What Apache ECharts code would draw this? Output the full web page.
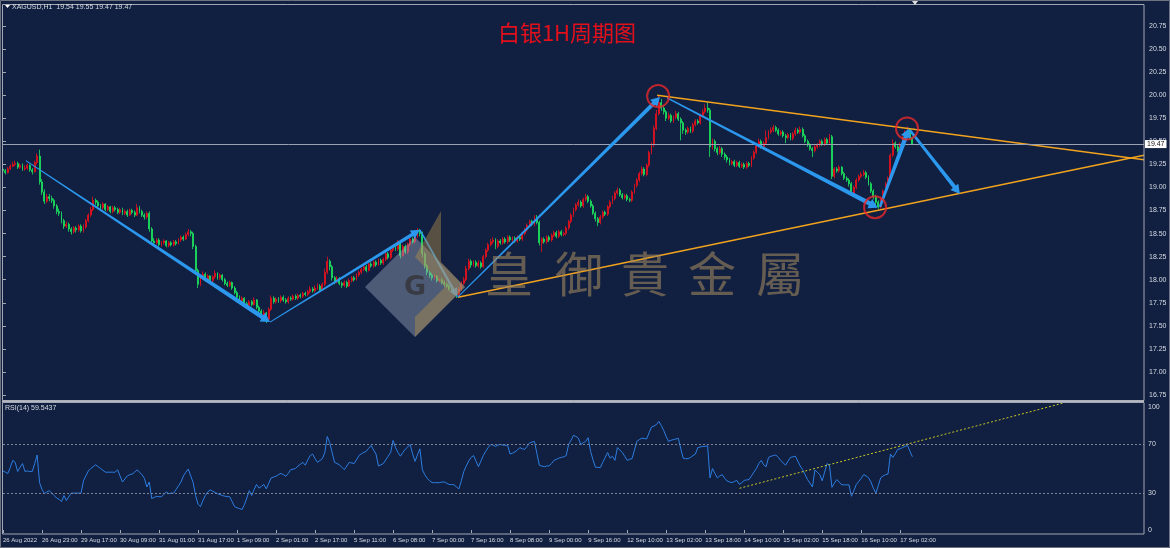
<!DOCTYPE html>
<html>
<head>
<meta charset="utf-8">
<title>XAGUSD H1</title>
<script src="https://cdn.jsdelivr.net/npm/echarts@6.0.0/dist/echarts.min.js"></script>
<style>
html, body { margin: 0; padding: 0; background: #111f40; }
#chart { width: 1170px; height: 548px; }
</style>
</head>
<body>
<div id="chart"></div>
<script>
// hourly bars, XAGUSD H1, 26 Aug - 17 Sep 2022
var firstOpen = 19.20;
var closes = [
  19.18, 19.16, 19.20, 19.23, 19.25, 19.26, 19.22, 19.24, 19.20, 19.21,
  19.24, 19.19, 19.17, 19.27, 19.34, 19.06, 18.95, 18.85, 18.90, 18.88,
  18.86, 18.80, 18.74, 18.72, 18.64, 18.58, 18.60, 18.55, 18.52, 18.56,
  18.54, 18.58, 18.53, 18.57, 18.64, 18.70, 18.76, 18.86, 18.84, 18.80,
  18.78, 18.82, 18.76, 18.79, 18.74, 18.78, 18.76, 18.73, 18.76, 18.72,
  18.74, 18.70, 18.75, 18.73, 18.70, 18.78, 18.74, 18.70, 18.68, 18.72,
  18.55, 18.42, 18.40, 18.43, 18.38, 18.40, 18.42, 18.37, 18.40, 18.38,
  18.41, 18.39, 18.43, 18.46, 18.44, 18.49, 18.52, 18.50, 18.36, 18.10,
  17.95, 18.02, 18.06, 18.00, 18.04, 17.99, 18.03, 18.07, 18.02, 18.05,
  18.00, 17.96, 17.94, 17.97, 17.91, 17.86, 17.81, 17.77, 17.80, 17.74,
  17.72, 17.76, 17.73, 17.78, 17.70, 17.66, 17.60, 17.64, 17.57, 17.68,
  17.80, 17.76, 17.79, 17.77, 17.81, 17.78, 17.76, 17.80, 17.79, 17.82,
  17.80, 17.83, 17.82, 17.85, 17.84, 17.87, 17.90, 17.88, 17.91, 17.93,
  17.89, 17.95, 18.08, 18.20, 18.14, 18.02, 17.98, 18.01, 17.96, 17.94,
  17.97, 17.93, 17.99, 18.02, 18.00, 18.05, 18.08, 18.11, 18.14, 18.10,
  18.17, 18.15, 18.19, 18.16, 18.21, 18.18, 18.22, 18.28, 18.24, 18.32,
  18.35, 18.33, 18.40, 18.26, 18.36, 18.30, 18.38, 18.44, 18.41, 18.47,
  18.53, 18.50, 18.28, 18.15, 18.08, 18.05, 18.02, 18.04, 17.99, 18.00,
  17.97, 17.95, 17.93, 17.90, 17.88, 17.86, 17.83, 17.90, 17.96, 18.00,
  18.12, 18.20, 18.16, 18.19, 18.15, 18.18, 18.14, 18.25, 18.32, 18.38,
  18.41, 18.43, 18.36, 18.42, 18.40, 18.44, 18.41, 18.46, 18.43, 18.45,
  18.42, 18.46, 18.44, 18.50, 18.54, 18.59, 18.63, 18.60, 18.67, 18.62,
  18.40, 18.44, 18.41, 18.46, 18.43, 18.48, 18.51, 18.47, 18.52, 18.49,
  18.50, 18.56, 18.63, 18.70, 18.76, 18.81, 18.84, 18.80, 18.87, 18.90,
  18.85, 18.80, 18.72, 18.66, 18.62, 18.68, 18.73, 18.71, 18.79, 18.84,
  18.88, 18.94, 18.97, 18.92, 18.89, 18.91, 18.87, 18.86, 18.95, 19.02,
  19.08, 19.15, 19.20, 19.14, 19.24, 19.38, 19.46, 19.64, 19.80, 19.92,
  19.86, 19.82, 19.75, 19.78, 19.72, 19.76, 19.80, 19.74, 19.70, 19.62,
  19.60, 19.64, 19.61, 19.68, 19.72, 19.70, 19.78, 19.82, 19.86, 19.84,
  19.44, 19.50, 19.42, 19.38, 19.42, 19.36, 19.33, 19.30, 19.26, 19.28,
  19.24, 19.27, 19.23, 19.25, 19.22, 19.26, 19.24, 19.32, 19.38, 19.45,
  19.50, 19.44, 19.48, 19.54, 19.60, 19.62, 19.65, 19.62, 19.58, 19.60,
  19.56, 19.54, 19.57, 19.53, 19.58, 19.62, 19.60, 19.63, 19.56, 19.50,
  19.46, 19.42, 19.40, 19.44, 19.46, 19.50, 19.47, 19.52, 19.48, 19.55,
  19.12, 19.20, 19.18, 19.22, 19.15, 19.10, 19.08, 19.04, 18.93, 19.00,
  19.08, 19.12, 19.14, 19.16, 19.11, 19.04, 18.96, 18.90, 18.84, 18.79,
  18.88, 18.96, 19.04, 19.10, 19.35, 19.48, 19.44, 19.40, 19.47, 19.54,
  19.59, 19.63, 19.54, 19.47
];
var highs = [
  19.23, 19.20, 19.22, 19.25, 19.28, 19.29, 19.28, 19.26, 19.26, 19.24,
  19.26, 19.25, 19.21, 19.29, 19.37, 19.41, 19.09, 18.98, 18.93, 18.93,
  18.91, 18.88, 18.82, 18.77, 18.74, 18.66, 18.63, 18.62, 18.57, 18.58,
  18.58, 18.60, 18.60, 18.60, 18.66, 18.72, 18.79, 18.90, 18.88, 18.86,
  18.82, 18.84, 18.83, 18.81, 18.80, 18.80, 18.80, 18.78, 18.78, 18.78,
  18.76, 18.76, 18.77, 18.77, 18.75, 18.82, 18.80, 18.76, 18.72, 18.74,
  18.74, 18.57, 18.45, 18.45, 18.45, 18.42, 18.44, 18.43, 18.42, 18.42,
  18.43, 18.43, 18.45, 18.48, 18.48, 18.51, 18.55, 18.54, 18.52, 18.38,
  18.12, 18.04, 18.09, 18.08, 18.06, 18.05, 18.05, 18.10, 18.08, 18.07,
  18.06, 18.02, 17.98, 17.99, 17.98, 17.93, 17.88, 17.83, 17.82, 17.81,
  17.76, 17.78, 17.78, 17.81, 17.79, 17.72, 17.68, 17.67, 17.65, 17.70,
  17.83, 17.82, 17.81, 17.81, 17.83, 17.83, 17.80, 17.82, 17.82, 17.84,
  17.84, 17.85, 17.85, 17.87, 17.87, 17.89, 17.93, 17.92, 17.94, 17.96,
  17.95, 17.97, 18.12, 18.25, 18.22, 18.16, 18.04, 18.04, 18.03, 17.98,
  17.99, 17.99, 18.01, 18.04, 18.04, 18.07, 18.10, 18.13, 18.16, 18.16,
  18.19, 18.19, 18.21, 18.21, 18.23, 18.23, 18.24, 18.31, 18.30, 18.34,
  18.37, 18.37, 18.43, 18.41, 18.38, 18.38, 18.40, 18.46, 18.46, 18.50,
  18.56, 18.55, 18.52, 18.30, 18.17, 18.10, 18.07, 18.06, 18.05, 18.02,
  18.02, 17.99, 17.97, 17.95, 17.92, 17.90, 17.88, 17.92, 17.98, 18.03,
  18.15, 18.23, 18.22, 18.21, 18.21, 18.21, 18.20, 18.27, 18.34, 18.40,
  18.44, 18.46, 18.45, 18.44, 18.44, 18.46, 18.46, 18.48, 18.48, 18.47,
  18.47, 18.48, 18.48, 18.52, 18.56, 18.61, 18.65, 18.65, 18.70, 18.70,
  18.64, 18.46, 18.46, 18.48, 18.48, 18.50, 18.53, 18.53, 18.54, 18.54,
  18.52, 18.58, 18.65, 18.72, 18.78, 18.83, 18.87, 18.86, 18.89, 18.93,
  18.92, 18.87, 18.82, 18.74, 18.68, 18.70, 18.75, 18.75, 18.81, 18.86,
  18.91, 18.96, 19.00, 18.99, 18.94, 18.93, 18.93, 18.89, 18.97, 19.04,
  19.10, 19.17, 19.23, 19.22, 19.26, 19.40, 19.49, 19.67, 19.84, 20.00,
  19.96, 19.89, 19.84, 19.81, 19.80, 19.78, 19.83, 19.82, 19.76, 19.72,
  19.64, 19.66, 19.66, 19.70, 19.74, 19.74, 19.80, 19.85, 19.90, 19.92,
  19.86, 19.53, 19.52, 19.44, 19.45, 19.44, 19.38, 19.35, 19.32, 19.30,
  19.30, 19.29, 19.29, 19.27, 19.27, 19.28, 19.28, 19.34, 19.40, 19.47,
  19.53, 19.52, 19.50, 19.62, 19.62, 19.65, 19.68, 19.67, 19.64, 19.62,
  19.62, 19.58, 19.59, 19.59, 19.60, 19.65, 19.64, 19.66, 19.65, 19.58,
  19.52, 19.48, 19.44, 19.46, 19.48, 19.52, 19.52, 19.54, 19.54, 19.58,
  19.57, 19.22, 19.22, 19.24, 19.23, 19.17, 19.12, 19.10, 19.06, 19.02,
  19.10, 19.14, 19.17, 19.19, 19.18, 19.13, 19.06, 18.98, 18.92, 18.86,
  18.90, 18.98, 19.06, 19.12, 19.37, 19.52, 19.50, 19.46, 19.49, 19.56,
  19.62, 19.66, 19.64, 19.55
];
var lows = [
  19.16, 19.14, 19.15, 19.19, 19.22, 19.23, 19.20, 19.20, 19.18, 19.18,
  19.19, 19.17, 19.14, 19.16, 19.25, 19.03, 18.92, 18.82, 18.83, 18.85,
  18.83, 18.77, 18.71, 18.69, 18.61, 18.55, 18.56, 18.52, 18.49, 18.50,
  18.51, 18.52, 18.51, 18.51, 18.55, 18.62, 18.68, 18.74, 18.81, 18.78,
  18.75, 18.76, 18.74, 18.74, 18.72, 18.72, 18.74, 18.71, 18.71, 18.70,
  18.70, 18.68, 18.69, 18.71, 18.68, 18.69, 18.72, 18.68, 18.65, 18.66,
  18.52, 18.38, 18.37, 18.38, 18.36, 18.36, 18.38, 18.35, 18.35, 18.36,
  18.36, 18.37, 18.38, 18.41, 18.42, 18.43, 18.47, 18.47, 18.33, 18.06,
  17.91, 17.93, 18.00, 17.98, 17.98, 17.97, 17.97, 18.01, 18.00, 18.00,
  17.98, 17.94, 17.92, 17.92, 17.89, 17.84, 17.78, 17.74, 17.75, 17.71,
  17.69, 17.70, 17.71, 17.72, 17.68, 17.63, 17.57, 17.58, 17.53, 17.56,
  17.66, 17.74, 17.74, 17.75, 17.75, 17.76, 17.74, 17.74, 17.77, 17.77,
  17.78, 17.78, 17.80, 17.80, 17.82, 17.82, 17.85, 17.86, 17.86, 17.89,
  17.87, 17.88, 17.93, 18.06, 18.10, 17.99, 17.95, 17.96, 17.94, 17.91,
  17.92, 17.91, 17.92, 17.97, 17.98, 17.99, 18.03, 18.06, 18.09, 18.08,
  18.09, 18.13, 18.13, 18.14, 18.15, 18.16, 18.16, 18.20, 18.22, 18.22,
  18.30, 18.31, 18.31, 18.23, 18.25, 18.28, 18.28, 18.36, 18.39, 18.39,
  18.45, 18.47, 18.24, 18.12, 18.05, 18.02, 17.99, 18.00, 17.97, 17.97,
  17.95, 17.92, 17.91, 17.88, 17.86, 17.84, 17.80, 17.82, 17.88, 17.94,
  17.98, 18.10, 18.13, 18.14, 18.13, 18.13, 18.12, 18.13, 18.23, 18.30,
  18.36, 18.39, 18.33, 18.34, 18.38, 18.38, 18.39, 18.39, 18.41, 18.41,
  18.40, 18.40, 18.42, 18.42, 18.48, 18.52, 18.57, 18.58, 18.58, 18.60,
  18.37, 18.30, 18.39, 18.39, 18.41, 18.41, 18.46, 18.45, 18.45, 18.47,
  18.47, 18.48, 18.54, 18.61, 18.68, 18.74, 18.79, 18.78, 18.78, 18.85,
  18.83, 18.78, 18.70, 18.63, 18.58, 18.60, 18.66, 18.69, 18.69, 18.77,
  18.82, 18.86, 18.92, 18.90, 18.87, 18.87, 18.85, 18.84, 18.84, 18.93,
  19.00, 19.06, 19.13, 19.12, 19.12, 19.22, 19.36, 19.44, 19.62, 19.78,
  19.83, 19.79, 19.72, 19.73, 19.70, 19.70, 19.74, 19.72, 19.51, 19.58,
  19.57, 19.58, 19.59, 19.59, 19.66, 19.68, 19.68, 19.76, 19.80, 19.81,
  19.33, 19.41, 19.39, 19.35, 19.36, 19.33, 19.30, 19.27, 19.24, 19.24,
  19.22, 19.22, 19.21, 19.21, 19.20, 19.20, 19.22, 19.22, 19.30, 19.36,
  19.43, 19.42, 19.42, 19.46, 19.52, 19.58, 19.60, 19.60, 19.56, 19.56,
  19.54, 19.48, 19.52, 19.51, 19.51, 19.56, 19.58, 19.58, 19.54, 19.48,
  19.44, 19.40, 19.33, 19.38, 19.42, 19.44, 19.45, 19.45, 19.46, 19.46,
  19.09, 19.10, 19.16, 19.16, 19.13, 19.08, 19.06, 19.01, 18.91, 18.91,
  18.98, 19.06, 19.10, 19.12, 19.09, 19.02, 18.94, 18.87, 18.81, 18.77,
  18.77, 18.86, 18.94, 19.02, 19.08, 19.33, 19.42, 19.38, 19.38, 19.45,
  19.52, 19.57, 19.52, 19.47
];
var rsiValues = [
  48, 47, 46, 51, 56.6, 55, 47.6, 51, 54, 47.6,
  48, 47.6, 47.6, 54, 61, 38.5, 33, 29.5, 31, 32,
  30, 28, 26, 25, 23, 28, 24, 27, 30, 30,
  30, 30, 30, 40, 44, 48, 50, 51.5, 53, 51.5,
  50, 48.5, 47, 47, 47, 47, 47, 49, 44, 39,
  41.5, 44, 45, 45.5, 47, 49, 47, 45, 42, 35,
  39, 25.6, 26.5, 27.4, 27, 27, 29, 31, 29.5, 30,
  30, 33, 36, 39, 44, 47, 49.6, 44, 38.5, 28,
  21, 19, 24, 28, 31, 32.6, 31.5, 30.5, 29.5, 28.8,
  28, 27.5, 27.2, 27, 23, 19, 18, 17.5, 16.6, 20.5,
  26, 32, 28, 33, 37, 34, 35.5, 37, 33.4, 38,
  42.4, 43, 43.7, 45, 46, 45, 43.7, 46, 49, 49.5,
  50, 52, 53.5, 55, 52.7, 57, 60.5, 61.7, 58, 55,
  56.5, 58, 63, 76, 71, 63, 55, 54, 53, 51,
  49, 52, 55, 54.5, 54, 57, 60.5, 62, 63, 64,
  66.5, 68.7, 65, 61.7, 52, 53, 54, 57, 60, 63,
  72.8, 67, 63, 60, 63, 65.6, 67.5, 69.5, 62, 55.8,
  61, 66, 49, 45, 42, 40, 38.5, 38.5, 38.5, 38.5,
  39, 39, 38, 37, 37, 36.7, 35, 33.4, 40, 47.6,
  52, 56, 59, 60.5, 56, 51.4, 56, 60.5, 64, 67,
  69.5, 69, 68, 69, 69.5, 69, 69, 68.7, 61.7, 62.5,
  63.5, 65, 67, 66, 65.6, 68, 70.8, 71.5, 72, 62,
  52.7, 52, 51.4, 52, 52.2, 54, 56.6, 57.5, 58.4, 59,
  59.5, 60.5, 69.5, 73, 77, 76, 74.6, 69.5, 71, 72,
  75, 64, 57, 51, 51, 50.7, 55, 59, 63, 58.4,
  60, 56.6, 67, 65, 63, 60, 56.6, 57.5, 58, 65,
  72, 73.5, 74.6, 74.3, 74, 79, 83.7, 84.5, 85.7, 88.3,
  85, 81, 76, 72, 73, 73.5, 74, 74.6, 66, 58.4,
  58, 58, 59, 60.5, 61.7, 67, 67.5, 68, 68, 68.5,
  42.4, 50, 46, 42.4, 44, 45, 42, 39.8, 39, 38.5,
  39.5, 40.3, 37.2, 38.5, 40.3, 40.7, 41, 44, 47, 50,
  54, 56.6, 53, 51.4, 59, 60, 60.5, 61, 59, 56.6,
  54.5, 52.7, 56, 59, 59.5, 60, 56, 52, 49, 45,
  41, 38, 35, 48.8, 47, 45, 40, 47, 54, 52.7,
  34.7, 38, 41, 39, 36.7, 36.7, 36.7, 36.7, 27.4, 32,
  37, 39.5, 42, 45, 44, 42.4, 39, 34, 30, 36,
  42.4, 44, 45, 45.5, 61.7, 59, 62, 65.6, 66, 67,
  68, 68.7, 64, 59.54
];

// time axis: one label every 16 bars
var timeLabels = [
  '26 Aug 2022', '26 Aug 23:00', '29 Aug 17:00', '30 Aug 09:00', '31 Aug 01:00',
  '31 Aug 17:00', '1 Sep 09:00', '2 Sep 01:00', '2 Sep 17:00', '5 Sep 11:00',
  '6 Sep 08:00', '7 Sep 00:00', '7 Sep 16:00', '8 Sep 08:00', '9 Sep 00:00',
  '9 Sep 16:00', '12 Sep 10:00', '13 Sep 02:00', '13 Sep 18:00', '14 Sep 10:00',
  '15 Sep 02:00', '15 Sep 18:00', '16 Sep 10:00', '17 Sep 02:00'
];
var labelStep = 16;
var slotCount = 469;   // bars visible in the window, incl. empty right shift
var lastPrice = 19.47;
var rsiLevels = [70, 30];
var rsiLabelLevels = [0, 30, 70, 100];

// drawings on the chart: [barFrom, priceFrom, barTo, priceTo]
var blueArrows = [
  [9.4, 19.29, 109.5, 17.54],
  [109.5, 17.54, 171.0, 18.54],
  [171.0, 18.54, 186.5, 17.81],
  [186.5, 17.81, 269.5, 19.98],
  [272.4, 19.97, 358.8, 18.78],
  [359.7, 18.79, 371.6, 19.64],
  [372.0, 19.62, 392.5, 18.93]
];
var arrowWidths = [[1, 4.5], [1, 3.5], [1.5, 2.5], [1, 4], [1.5, 4.5], [2.5, 4.5], [2.5, 4]];
var upperEdge = [[268.3, 20.00], [468, 19.30]];
var lowerEdge = [[186.6, 17.81], [468, 19.35]];
var circleMarks = [[268.7, 19.99], [370.8, 19.64], [357.7, 18.785]];
var rsiTrend = [[302.1, 33.9], [434.5, 103]];

var watermarkChars = ['皇', '御', '貴', '金', '屬'];

var candleData = closes.map(function (c, i) {
  var o = i === 0 ? firstOpen : closes[i - 1];
  return [o, c, lows[i], highs[i]];
});
var slots = [];
for (var s = 0; s < slotCount; s++) slots.push(s);

var smallFont = 'Liberation Sans, Arial, sans-serif';
var frameColor = '#a3a7b3';
var textColor = '#d8dce4';

function isLabelSlot(idx) {
  return idx % labelStep === 0 && idx / labelStep < timeLabels.length;
}

function renderArrow(params, api) {
  var a = api.coord([api.value(0), api.value(1)]);
  var b = api.coord([api.value(2), api.value(3)]);
  var w = arrowWidths[params.dataIndex];
  var dx = b[0] - a[0], dy = b[1] - a[1];
  var len = Math.sqrt(dx * dx + dy * dy);
  var ux = dx / len, uy = dy / len, nx = -uy, ny = ux;
  var head = 9, hw = w[1] / 2 + 3;
  var cx = b[0] - ux * head, cy = b[1] - uy * head;
  return {
    type: 'polygon',
    shape: {
      points: [
        [a[0] + nx * w[0] / 2, a[1] + ny * w[0] / 2],
        [cx + nx * w[1] / 2, cy + ny * w[1] / 2],
        [cx + nx * hw, cy + ny * hw],
        [b[0], b[1]],
        [cx - nx * hw, cy - ny * hw],
        [cx - nx * w[1] / 2, cy - ny * w[1] / 2],
        [a[0] - nx * w[0] / 2, a[1] - ny * w[0] / 2]
      ]
    },
    style: { fill: '#2b98ee' }
  };
}

var chart = echarts.init(document.getElementById('chart'));

var graphics = [
  // window and panel frames
  { type: 'rect', shape: { x: 0.5, y: 0.5, width: 1169, height: 547 }, style: { fill: 'none', stroke: '#6f7482', lineWidth: 1 }, z: 50 },
  { type: 'rect', shape: { x: 2.5, y: 4.5, width: 1141.5, height: 396 }, style: { fill: 'none', stroke: frameColor, lineWidth: 1 }, z: 50 },
  { type: 'line', shape: { x1: 2, y1: 401.5, x2: 1144, y2: 401.5 }, style: { stroke: '#b4b8c2', lineWidth: 2 }, z: 50 },
  { type: 'rect', shape: { x: 2.5, y: 402.5, width: 1141.5, height: 131.5 }, style: { fill: 'none', stroke: frameColor, lineWidth: 1 }, z: 50 },
  // header
  { type: 'polygon', shape: { points: [[5, 5], [10, 5], [7.5, 8]] }, style: { fill: '#ffffff' }, z: 50 },
  { type: 'text', x: 12, y: 7, style: { text: 'XAGUSD,H1  19.54 19.55 19.47 19.47', fill: textColor, font: '7px ' + smallFont, textVerticalAlign: 'middle' }, z: 50 },
  { type: 'polygon', shape: { points: [[912, 1], [918, 1], [915, 5]] }, style: { fill: '#e0e0e0' }, z: 50 },
  { type: 'text', x: 5, y: 408, style: { text: 'RSI(14) 59.5437', fill: textColor, font: '7px ' + smallFont, textVerticalAlign: 'middle' }, z: 50 },
  // red caption
  { type: 'text', x: 567, y: 33, style: { text: '白银1H周期图', fill: '#e3101c', font: '22px "Noto Sans CJK SC", sans-serif', textAlign: 'center', textVerticalAlign: 'middle' }, z: 50 },
  // logo
  { type: 'polygon', shape: { points: [[365, 287], [415, 237], [465, 287], [415, 337]] }, style: { fill: 'rgba(165,175,195,0.42)' }, z: 60 },
  { type: 'polygon', shape: { points: [[415, 257], [441, 211], [441, 262], [465, 287], [415, 337], [415, 317], [445, 287]] }, style: { fill: 'rgba(175,140,70,0.45)' }, z: 61 },
  { type: 'text', x: 415, y: 288, style: { text: 'G', fill: 'rgba(55,55,62,0.9)', font: 'bold 27px "DejaVu Sans", sans-serif', textAlign: 'center', textVerticalAlign: 'middle' }, z: 62 }
];
var charX = [509, 579, 645, 712, 780];
watermarkChars.forEach(function (ch, k) {
  graphics.push({
    type: 'text', x: charX[k], y: 274, z: 60,
    style: { text: ch, fill: 'rgba(160,135,95,0.6)', font: '48px "Noto Sans CJK TC", sans-serif', textAlign: 'center', textVerticalAlign: 'middle' }
  });
});

var option = {
  backgroundColor: '#111f40',
  animation: false,
  grid: [
    { left: 3, right: 26, top: 26, bottom: 153 },
    { left: 3, right: 26, top: 407, bottom: 18 }
  ],
  xAxis: [
    { type: 'category', gridIndex: 0, data: slots, boundaryGap: false, show: false },
    {
      type: 'category', gridIndex: 1, data: slots, boundaryGap: false, offset: 4,
      axisLine: { show: false },
      axisTick: { interval: isLabelSlot, length: 3, lineStyle: { color: frameColor } },
      axisLabel: {
        interval: isLabelSlot, align: 'left', margin: 3, fontSize: 6,
        fontFamily: smallFont, color: textColor,
        showMinLabel: true, showMaxLabel: true, hideOverlap: false,
        formatter: function (v, idx) { return timeLabels[idx / labelStep] || ''; }
      },
      splitLine: { show: false }
    },
    { type: 'value', gridIndex: 0, min: 0, max: slotCount - 1, show: false },
    { type: 'value', gridIndex: 1, min: 0, max: slotCount - 1, show: false }
  ],
  yAxis: [
    {
      type: 'value', gridIndex: 0, position: 'right', min: 16.75, max: 20.75, interval: 0.25,
      axisLine: { show: false },
      axisTick: { show: true, length: 3, lineStyle: { color: frameColor } },
      axisLabel: { margin: 5, fontSize: 7, fontFamily: smallFont, color: textColor, formatter: function (v) { return v.toFixed(2); } },
      splitLine: { show: false }
    },
    {
      type: 'value', gridIndex: 1, position: 'right', min: 0, max: 100, interval: 10,
      axisLine: { show: false }, axisTick: { show: false },
      axisLabel: { margin: 4, fontSize: 7, fontFamily: smallFont, color: textColor, formatter: function (v) { return rsiLabelLevels.indexOf(v) >= 0 ? String(v) : ''; } },
      splitLine: { show: false }
    }
  ],
  series: [
    {
      name: 'XAGUSD', type: 'candlestick', xAxisIndex: 0, yAxisIndex: 0,
      data: candleData, barWidth: 1.4,
      itemStyle: { color: '#e8121c', color0: '#1de35e', borderColor: '#e8121c', borderColor0: '#1de35e', borderWidth: 0.8 },
      markLine: {
        silent: true, symbol: 'none',
        lineStyle: { color: '#9aa2b4', width: 1, type: 'solid' },
        label: { position: 'end', distance: 1, formatter: lastPrice.toFixed(2), backgroundColor: '#ffffff', color: '#111111', fontSize: 7, fontFamily: smallFont, padding: [1, 2, 0, 2] },
        data: [{ yAxis: lastPrice }]
      }
    },
    {
      name: 'upper', type: 'line', xAxisIndex: 2, yAxisIndex: 0, data: upperEdge,
      symbol: 'none', lineStyle: { color: '#f2a31e', width: 1.5 }
    },
    {
      name: 'lower', type: 'line', xAxisIndex: 2, yAxisIndex: 0, data: lowerEdge,
      symbol: 'none', lineStyle: { color: '#f2a31e', width: 1.5 }
    },
    {
      name: 'arrows', type: 'custom', xAxisIndex: 2, yAxisIndex: 0,
      data: blueArrows, encode: { x: [0, 2], y: [1, 3] }, renderItem: renderArrow, z: 5
    },
    {
      name: 'circles', type: 'scatter', xAxisIndex: 2, yAxisIndex: 0, data: circleMarks,
      symbolSize: 22, z: 6,
      itemStyle: { color: 'rgba(0,0,0,0)', borderColor: '#e6282a', borderWidth: 2 }
    },
    {
      name: 'RSI(14)', type: 'line', xAxisIndex: 1, yAxisIndex: 1, data: rsiValues,
      symbol: 'none', lineStyle: { color: '#2c7ee2', width: 1 },
      markLine: {
        silent: true, symbol: 'none', label: { show: false },
        lineStyle: { color: '#7c8496', width: 1, type: [2, 2] },
        data: rsiLevels.map(function (v) { return { yAxis: v }; })
      }
    },
    {
      name: 'rsiTrend', type: 'line', xAxisIndex: 3, yAxisIndex: 1, data: rsiTrend,
      symbol: 'none', clip: false, lineStyle: { color: '#c8c826', width: 1, type: [2, 2] }
    }
  ],
  graphic: graphics
};

chart.setOption(option);
</script>
</body>
</html>
